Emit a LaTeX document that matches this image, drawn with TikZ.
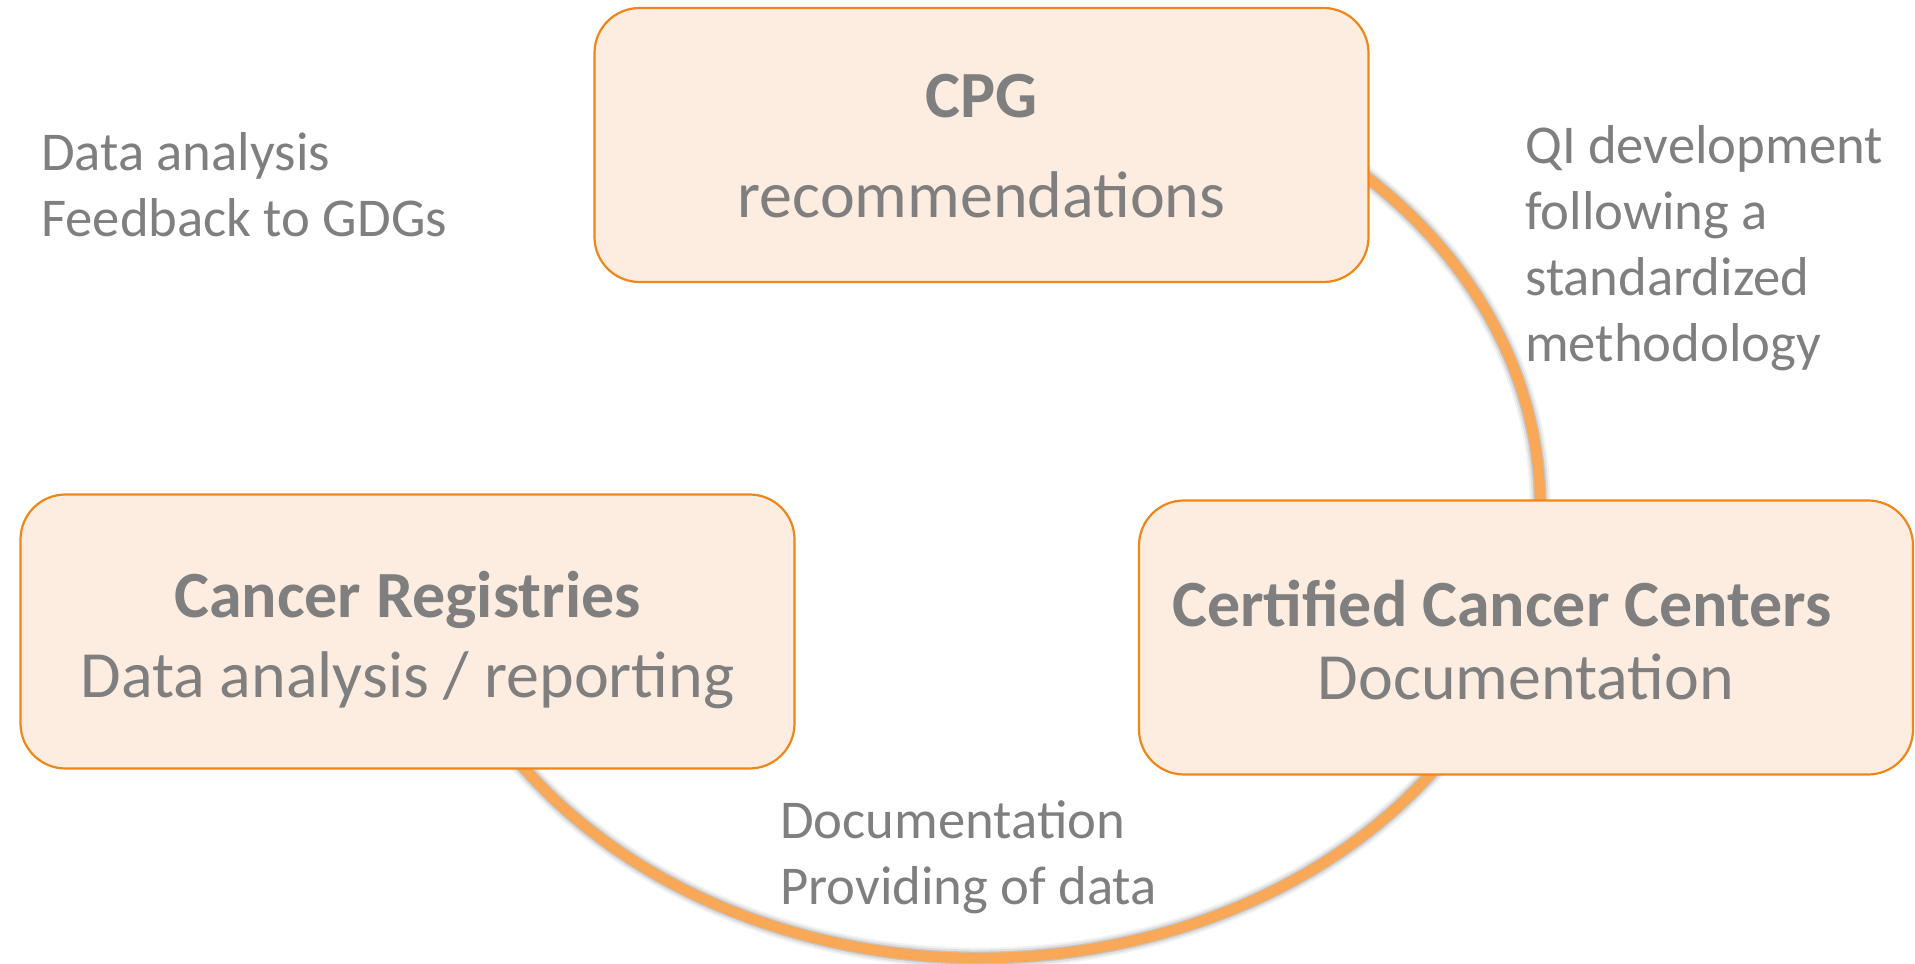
\documentclass[tikz,border=0pt]{standalone}
\usepackage{fontspec}
\setmainfont{Carlito}
\usetikzlibrary{backgrounds}
\definecolor{cGray}{RGB}{127,127,127}
\definecolor{cFill}{RGB}{253,237,225}
\definecolor{cEdge}{RGB}{240,134,24}
\definecolor{cArc}{RGB}{249,168,88}
\tikzset{mybox/.style={
  shape=rectangle,
  draw=cEdge,
  fill=cFill,
  line width=2.2pt,
  rounded corners=45pt,
  minimum width=774pt,
  minimum height=274pt,
  inner sep=0pt,
  align=center,
  text=cGray,
  text depth=0pt,
  font=\fontsize{66}{79}\selectfont,
  }
}
\tikzset{mylabel/.style={
  anchor=base west,
  align=left,
  inner sep=0pt,
  text=cGray,
  font=\fontsize{54.7}{66}\selectfont,
  }
}
\tikzset{myarc/.style={
  draw=cArc,
  line width=10.5pt,
  }
}

\begin{document}
\begin{tikzpicture}[x=1pt,y=1pt]
  \useasboundingbox (0,0) rectangle (1915,964);
  \node [mybox, text height=146pt] (b1) at (981.5,819) {\textbf{CPG}\\[21pt] recommendations};
  \node [mybox, text height=125pt] (b2) at (1526,326.5) {\hspace*{-48pt}\textbf{Certified Cancer Centers}\\[-6pt] Documentation};
  \node [mybox, text height=133pt] (b3) at (407.5,332.5) {\textbf{Cancer Registries}\\[1pt] Data analysis / reporting};

  \node [mylabel] (l1) at (41,727) {Data analysis\\Feedback to GDGs};
  \node [mylabel] (l2) at (1525,602) {QI development\\following a\\standardized\\methodology};
  \node [mylabel] (l3) at (780,59) {Documentation\\Providing of data};

  % cycle behind the boxes
  \coordinate (c0) at (980,459);
  \begin{scope}[on background layer]
    \foreach \w/\o in {21/0.05, 17/0.08, 13/0.12} {
      \draw [line width=\w pt, black, opacity=\o, shift={(1.5,-4)}]
        (c0) ++(60:560pt and 453pt) arc [start angle=60, end angle=-150, x radius=560pt, y radius=453pt];
    }
    \draw [myarc] (c0) ++(60:560pt and 453pt) arc [start angle=60, end angle=-150, x radius=560pt, y radius=453pt];
  \end{scope}
\end{tikzpicture}
\end{document}
